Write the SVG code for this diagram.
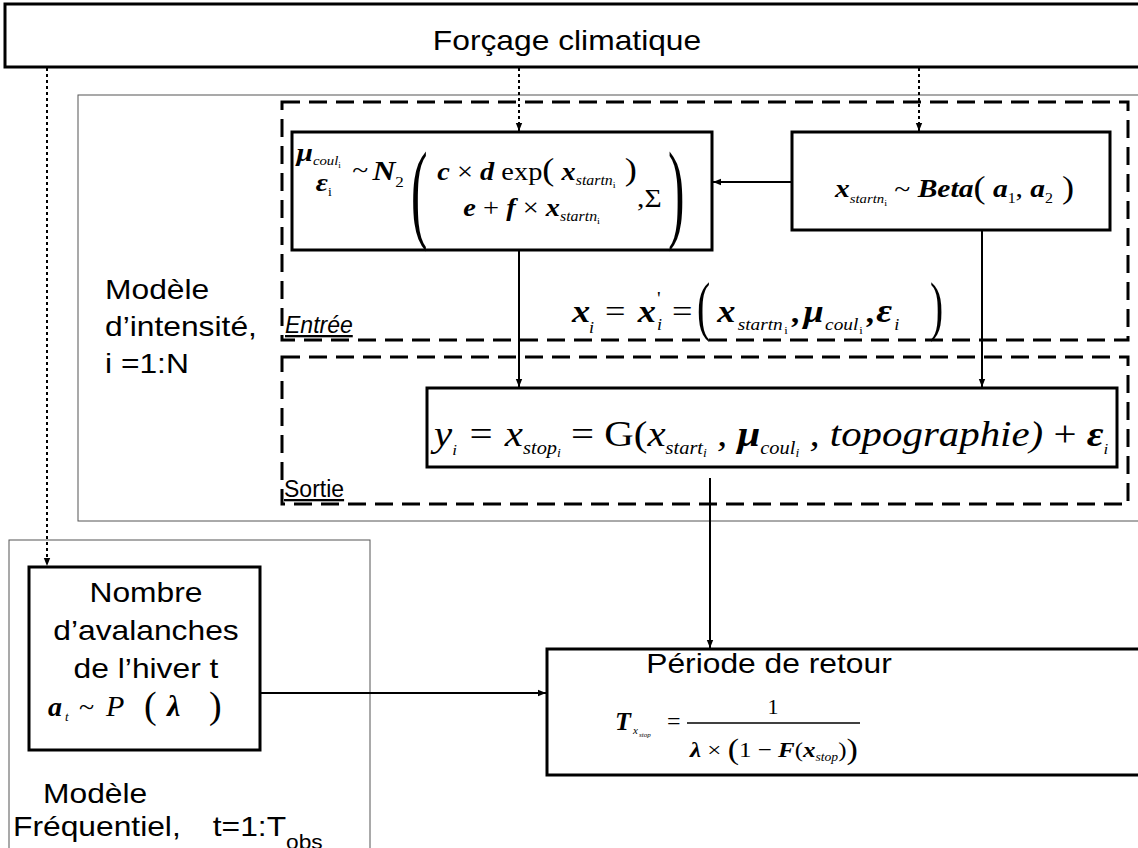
<svg xmlns="http://www.w3.org/2000/svg" width="1138" height="848" viewBox="0 0 1138 848">
<defs>
<style>
.lbl{font-family:"Liberation Sans",Arial,sans-serif;fill:#000;font-size:28px}
.m{font-family:"Liberation Serif","Times New Roman",serif;fill:#000}
.bi{font-weight:bold;font-style:italic}
.it{font-style:italic;font-weight:normal}
.rm{font-style:normal;font-weight:normal}
.box{fill:#fff;stroke:#000;stroke-width:3}
.gray{fill:none;stroke:#555;stroke-width:1}
.dash{fill:none;stroke:#000;stroke-width:3;stroke-dasharray:18 9}
.dot{fill:none;stroke:#000;stroke-width:2;stroke-dasharray:3 3}
.ln{fill:none;stroke:#000;stroke-width:2}
</style>
<marker id="ah" viewBox="0 0 10 10" refX="10" refY="5" markerWidth="8" markerHeight="8" markerUnits="userSpaceOnUse" orient="auto"><path d="M0,1 L10,5 L0,9 z" fill="#000"/></marker>
</defs>
<rect width="1138" height="848" fill="#fff"/>

<!-- containers -->
<g id="intensity-frame">
<rect class="gray" x="78" y="95" width="1070" height="426"/>
<text class="lbl" transform="translate(105,299) scale(1.135,1)">Modèle</text>
<text class="lbl" transform="translate(105,336) scale(1.135,1)">d’intensité,</text>
<text class="lbl" transform="translate(105,373) scale(1.135,1)">i =1:N</text>
</g>
<g id="frequency-frame">
<rect class="gray" x="9" y="540" width="361" height="320"/>
<text class="lbl" transform="translate(43,803) scale(1.135,1)">Modèle</text>
<text class="lbl" transform="translate(13,836) scale(1.135,1)">Fréquentiel,<tspan x="176">t=1:T</tspan><tspan font-size="20" dy="13">obs</tspan></text>
</g>
<g id="entree-group">
<rect class="dash" x="282" y="102" width="846" height="238"/>
<text class="lbl" style="font-size:23px" font-style="italic" text-decoration="underline" x="285" y="333">Entrée</text>
</g>
<g id="sortie-group">
<rect class="dash" x="282" y="357" width="846" height="147"/>
<text class="lbl" style="font-size:23px" text-decoration="underline" x="284" y="497">Sortie</text>
</g>

<!-- nodes -->
<g id="forcage">
<rect class="box" x="5" y="4" width="1140" height="63"/>
<text class="lbl" text-anchor="middle" transform="translate(567,50) scale(1.135,1)">Forçage climatique</text>
</g>

<g id="mu-eps">
<rect class="box" x="292" y="132" width="420" height="118"/>
<g transform="translate(292,0) scale(1.135,1)">
<text class="m bi" font-size="26" x="4" y="161">μ<tspan class="it" font-size="13" dy="4">coul</tspan><tspan class="rm" font-size="8" dy="3">i</tspan></text>
<text class="m bi" font-size="26" x="21" y="191">ε<tspan class="rm" font-size="12" dy="5">i</tspan></text>
<text class="m" font-size="26" x="53" y="178">~</text>
<text class="m bi" font-size="28" x="71" y="180">N</text>
<text class="m" font-size="15" x="91" y="187">2</text>
<text class="m" font-size="25" x="128" y="180"><tspan class="bi">c</tspan> × <tspan class="bi">d</tspan> exp<tspan font-size="32">(</tspan> <tspan class="bi">x</tspan><tspan class="it" font-size="14" dy="5">startn</tspan><tspan font-size="9" dy="3">i</tspan><tspan font-size="32" dy="-8"> )</tspan></text>
<text class="m" font-size="25" x="151" y="216"><tspan class="bi">e</tspan> + <tspan class="bi">f</tspan> × <tspan class="bi">x</tspan><tspan class="it" font-size="14" dy="5">startn</tspan><tspan font-size="9" dy="3">i</tspan></text>
<text class="m" font-size="26" x="304" y="207">,Σ</text>
</g>
<text class="m" font-size="110" transform="translate(411,228) scale(0.45,1)">(</text>
<text class="m" font-size="110" transform="translate(668,228) scale(0.45,1)">)</text>
</g>

<g id="beta">
<rect class="box" x="792" y="132" width="318" height="98"/>
<text class="m" font-size="26" transform="translate(835,197) scale(1.135,1)"><tspan class="bi">x</tspan><tspan class="it" font-size="13" dy="6">startn</tspan><tspan font-size="9" dy="3">i</tspan><tspan dy="-9"> ~ </tspan><tspan class="bi">Beta</tspan><tspan font-size="32" dy="1">(</tspan><tspan class="bi" dy="-1"> a</tspan><tspan font-size="14" dy="6">1</tspan><tspan dy="-6">, </tspan><tspan class="bi">a</tspan><tspan font-size="14" dy="6">2</tspan><tspan font-size="32" dy="-5"> )</tspan></text>
</g>

<g id="x-def">
<g transform="translate(572,322) scale(1.135,1)">
<text class="m bi" font-size="32" x="0" y="0">x</text>
<text class="m it" font-size="16" x="15" y="11">i</text>
<text class="m" font-size="32" x="29" y="0">=</text>
<text class="m bi" font-size="32" x="58" y="0">x</text>
<text class="m" font-size="18" x="75" y="-17">'</text>
<text class="m it" font-size="16" x="75" y="8">i</text>
<text class="m" font-size="32" x="88" y="0">=</text>
<text class="m bi" font-size="32" x="128" y="0">x</text>
<text class="m it" font-size="17" x="146" y="8">startn</text>
<text class="m" font-size="11" x="187" y="12">i</text>
<text class="m bi" font-size="30" x="194" y="0">,</text>
<text class="m bi" font-size="32" x="204" y="0">μ</text>
<text class="m it" font-size="17" x="223" y="8">coul</text>
<text class="m" font-size="11" x="253" y="12">i</text>
<text class="m bi" font-size="30" x="260" y="0">,</text>
<text class="m bi" font-size="34" x="268" y="0">ε</text>
<text class="m it" font-size="16" x="284" y="8">i</text>
</g>
<text class="m" font-size="66" transform="translate(697,328) scale(0.6,1)">(</text>
<text class="m" font-size="66" transform="translate(930,328) scale(0.6,1)">)</text>
</g>

<g id="y-out">
<rect class="box" x="427" y="388" width="690" height="79"/>
<text class="m it" font-size="36" transform="translate(434,446) scale(1.135,1)">y<tspan font-size="15" dy="9">i</tspan><tspan dy="-9"> = x</tspan><tspan font-size="18" dy="8">stop</tspan><tspan font-size="12" dy="3">i</tspan><tspan class="rm" dy="-11"> = G(</tspan>x<tspan font-size="18" dy="8">start</tspan><tspan font-size="12" dy="3">i</tspan><tspan dy="-11"> , </tspan><tspan font-weight="bold">μ</tspan><tspan font-size="18" dy="8">coul</tspan><tspan font-size="12" dy="3">i</tspan><tspan dy="-11"> , topographie) </tspan><tspan class="rm">+ </tspan><tspan font-weight="bold">ε</tspan><tspan font-size="15" dy="8">i</tspan></text>
</g>

<g id="nombre">
<rect class="box" x="29" y="567" width="231" height="183"/>
<text class="lbl" text-anchor="middle" transform="translate(146,602) scale(1.135,1)">Nombre</text>
<text class="lbl" text-anchor="middle" transform="translate(146,640) scale(1.135,1)">d’avalanches</text>
<text class="lbl" text-anchor="middle" transform="translate(146,678) scale(1.135,1)">de l’hiver t</text>
<text class="m bi" font-size="28" x="48" y="716">a</text>
<text class="m it" font-size="13" x="65" y="721">t</text>
<text class="m" font-size="28" x="79" y="716">~</text>
<text class="m it" font-size="30" x="106" y="716">P</text>
<text class="m" font-size="38" x="144" y="718">(</text>
<text class="m bi" font-size="30" x="167" y="716">λ</text>
<text class="m" font-size="38" x="209" y="718">)</text>
</g>

<g id="periode">
<rect class="box" x="547" y="649" width="600" height="126"/>
<text class="lbl" text-anchor="middle" transform="translate(769,673) scale(1.135,1)">Période de retour</text>
<text class="m bi" font-size="26" x="615" y="730">T</text>
<text class="m it" font-size="11" x="633" y="734">x</text>
<text class="m it" font-size="7" x="639" y="737">stop</text>
<text class="m" font-size="24" x="667" y="729">=</text>
<line x1="687" y1="723" x2="860" y2="723" stroke="#000" stroke-width="1.5"/>
<text class="m" font-size="22" x="773" y="714" text-anchor="middle">1</text>
<text class="m" font-size="22" transform="translate(690,757) scale(1.135,1)"><tspan class="bi">λ</tspan> × <tspan font-size="30" dy="2">(</tspan><tspan dy="-2">1 − </tspan><tspan class="bi">F</tspan>(<tspan class="bi">x</tspan><tspan class="it" font-size="12" dy="4">stop</tspan><tspan dy="-4">)</tspan><tspan font-size="30" dy="2">)</tspan></text>
</g>

<!-- connectors -->
<g id="connectors">
<path class="dot" d="M47,68 V566" marker-end="url(#ah)"/>
<path class="dot" d="M519,68 V131" marker-end="url(#ah)"/>
<path class="dot" d="M919,68 V131" marker-end="url(#ah)"/>
<path class="ln" d="M792,182 H713" marker-end="url(#ah)"/>
<path class="ln" d="M519,250 V387" marker-end="url(#ah)"/>
<path class="ln" stroke-width="1.5" d="M982,230 V387" marker-end="url(#ah)"/>
<path class="ln" d="M710,478 V648" marker-end="url(#ah)"/>
<path class="ln" d="M260,693 H546" marker-end="url(#ah)"/>
</g>
</svg>
